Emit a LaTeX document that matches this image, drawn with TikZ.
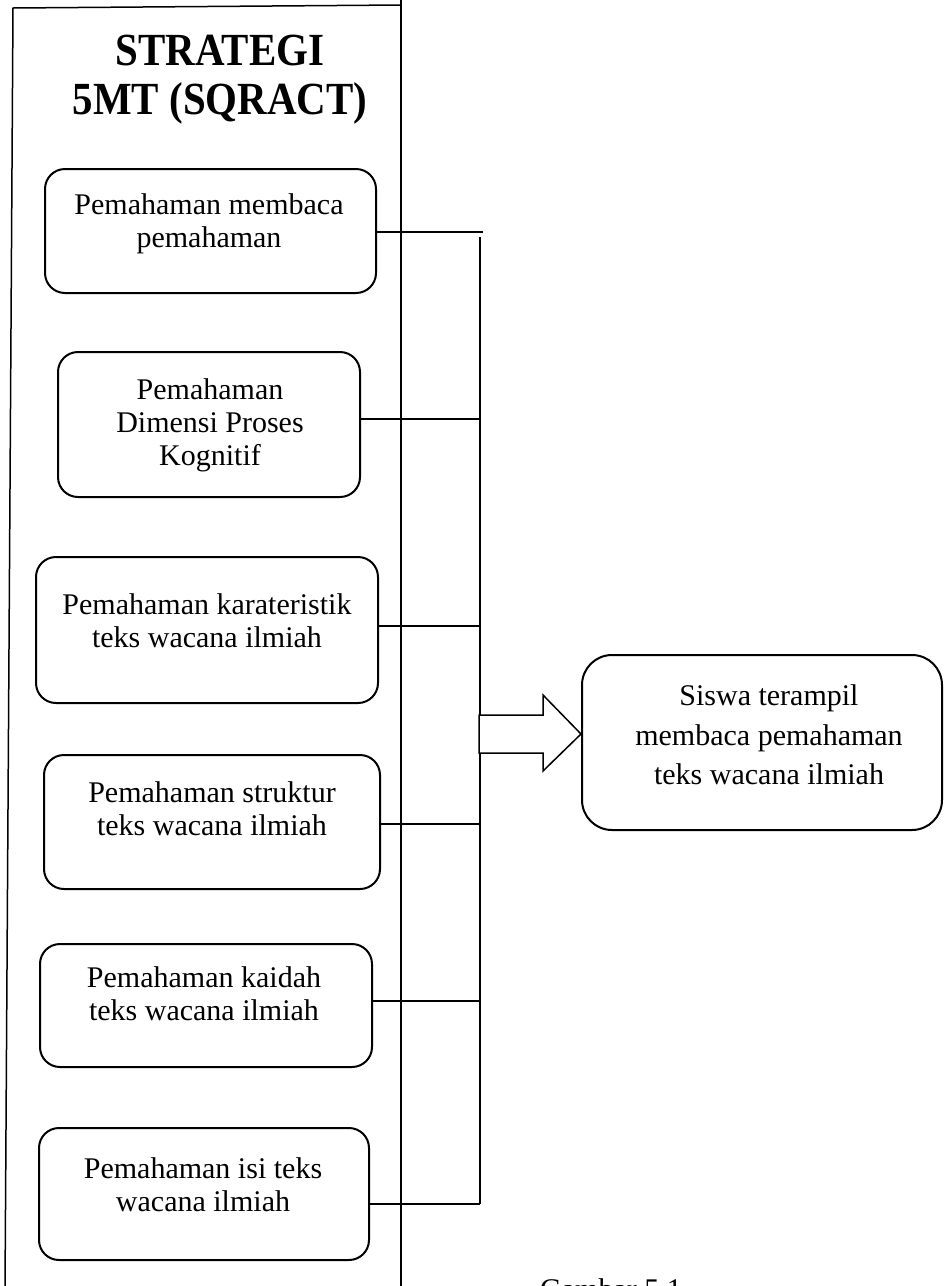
\documentclass[tikz,border=0pt]{standalone}
\usepackage{fontspec}
\setmainfont{Liberation Serif}
\newfontfamily\titlefont{Liberation Serif}[FakeStretch=0.89]
\begin{document}
\begin{tikzpicture}[x=1pt,y=-1pt,
  box/.style={draw, line width=2pt, rounded corners=20pt, inner sep=0pt},
  txt/.style={align=center, inner sep=0pt, font=\fontsize{30}{33}\selectfont},
  ln/.style={line width=1.5pt},
]
\useasboundingbox (0,0) rectangle (944,1286);
\clip (0,0) rectangle (944,1286);
% outer frame
\coordinate (ftl) at (13,8);
\coordinate (ftr) at (401,5);
\coordinate (fbl) at (5,1290);
\coordinate (fbr) at (401,1290);
\coordinate (ftop) at (401,0);
\draw[ln] (fbl) -- (ftl) -- (ftr);
\draw[ln] (ftop) -- (fbr);
% title
\node[align=center, inner sep=0pt, font=\titlefont\bfseries\fontsize{46}{49}\selectfont] (title) at (220,80) {STRATEGI\\5MT (SQRACT)};
% boxes
\node[box, minimum width=331pt, minimum height=124pt] (b1) at (210.5,231) {};
\node[box, minimum width=302pt, minimum height=145pt] (b2) at (209,424.5) {};
\node[box, minimum width=342pt, minimum height=146pt] (b3) at (207,630) {};
\node[box, minimum width=336pt, minimum height=134pt] (b4) at (212,822) {};
\node[box, minimum width=332pt, minimum height=123pt] (b5) at (206,1005.5) {};
\node[box, minimum width=330pt, minimum height=132pt] (b6) at (204,1194) {};
\node[txt] (t1) at (209,224) {Pemahaman membaca\\pemahaman};
\node[txt] (t2) at (210,425) {Pemahaman\\Dimensi Proses\\Kognitif};
\node[txt] (t3) at (207,621) {Pemahaman karateristik\\teks wacana ilmiah};
\node[txt] (t4) at (212,809) {Pemahaman struktur\\teks wacana ilmiah};
\node[txt] (t5) at (204,994) {Pemahaman kaidah\\teks wacana ilmiah};
\node[txt] (t6) at (203,1185) {Pemahaman isi teks\\wacana ilmiah};
% result box
\node[box, rounded corners=30pt, minimum width=360pt, minimum height=175pt] (r) at (762,742.5) {};
\node[txt, font=\fontsize{30}{39.5}\selectfont] (tr) at (769,735) {Siswa terampil\\membaca pemahaman\\teks wacana ilmiah};
% bracket
\coordinate (j1) at (483,232);
\coordinate (j2) at (480,419);
\coordinate (j3) at (480,626);
\coordinate (j4) at (480,824);
\coordinate (j5) at (480,1001);
\coordinate (j6) at (480,1204);
\coordinate (jtop) at (480,237);
\draw[ln] (jtop) -- (j6);
\draw[ln] (b1.east |- j1) -- (j1);
\draw[ln] (b2.east |- j2) -- (j2);
\draw[ln] (b3.east |- j3) -- (j3);
\draw[ln] (b4.east |- j4) -- (j4);
\draw[ln] (b5.east |- j5) -- (j5);
\draw[ln] (b6.east |- j6) -- (j6);
% block arrow
\draw[ln, fill=white, line join=miter] (479,715) -- (543,715) -- (543,695) -- (r.west |- 0,734) -- (543,771) -- (543,753) -- (479,753) -- cycle;
% caption
\node[anchor=base west, inner sep=0pt, font=\fontsize{30}{33}\selectfont] (cap) at (540,1299) {Gambar 5.1};
\end{tikzpicture}
\end{document}
